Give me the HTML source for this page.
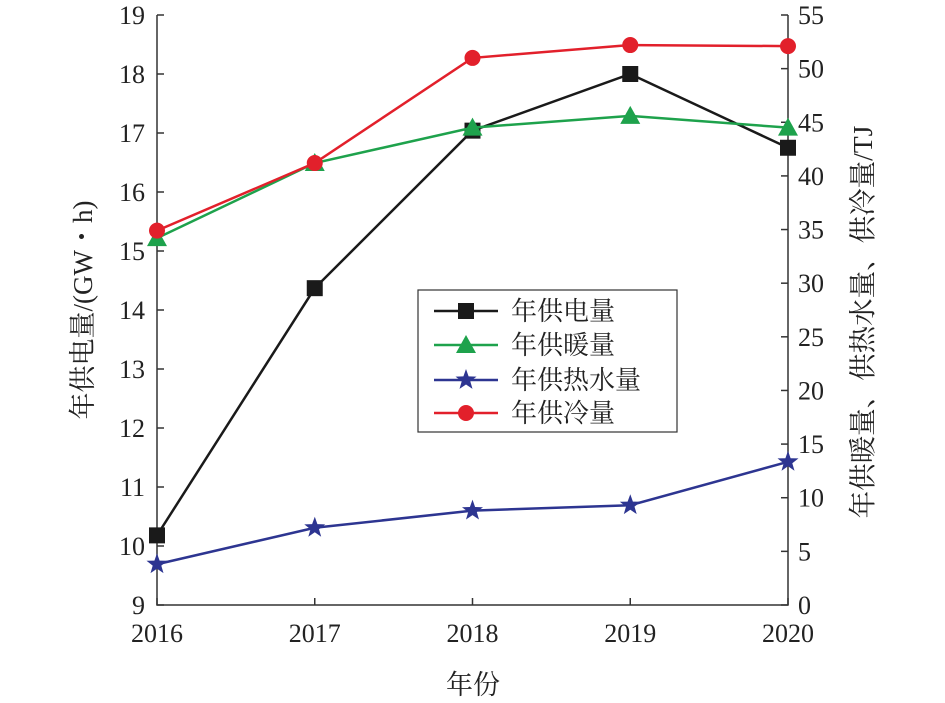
<!DOCTYPE html>
<html><head><meta charset="utf-8"><style>
html,body{margin:0;padding:0;background:#fff;}
svg{display:block;font-family:"Liberation Serif","Noto Serif CJK SC",serif;}
</style></head><body>
<svg id="chart" width="945" height="703" viewBox="0 0 945 703">
<g id="axes"></g><g id="series"></g><g id="legend"></g>
</svg>
<script>
const years = [2016, 2017, 2018, 2019, 2020];
const electricity = [10.18, 14.37, 17.04, 18.0, 16.75];
const heating = [34.2, 41.2, 44.5, 45.6, 44.5];
const hotWater = [3.8, 7.2, 8.8, 9.3, 13.35];
const cooling = [34.9, 41.2, 51.0, 52.2, 52.1];
const leftTicks = [9,10,11,12,13,14,15,16,17,18,19];
const rightTicks = [0,5,10,15,20,25,30,35,40,45,50,55];

const NS="http://www.w3.org/2000/svg";
const L=157,R=788,T=15,B=605;
const x=i=>L+(R-L)*(years[i]-2016)/4;
const yl=v=>B-(B-T)*(v-9)/10;
const yr=v=>B-(B-T)*v/55;
function mk(tag,attrs,parent){const e=document.createElementNS(NS,tag);for(const k in attrs)e.setAttribute(k,attrs[k]);parent.appendChild(e);return e;}
const ax=document.getElementById('axes'),se=document.getElementById('series'),lg=document.getElementById('legend');
const st={stroke:'#333','stroke-width':1.5,fill:'none'};
let a=mk('path',Object.assign({d:`M${L},${T}V${B}H${R}V${T}`},st),ax);

leftTicks.forEach(v=>{const y=yl(v);
 let t=mk('line',Object.assign({x1:L,x2:L+7,y1:y,y2:y},st),ax);
 
 let tx=mk('text',{x:L-12,y:y+9,'text-anchor':'end','font-size':26,fill:'#222'},ax);tx.textContent=v;
 });
rightTicks.forEach(v=>{const y=yr(v);
 let t=mk('line',Object.assign({x1:R-7,x2:R,y1:y,y2:y},st),ax);
 
 let tx=mk('text',{x:R+10,y:y+9,'font-size':26,fill:'#222'},ax);tx.textContent=v;
 });
years.forEach((yv,i)=>{const xx=x(i);
 let t=mk('line',Object.assign({x1:xx,x2:xx,y1:B,y2:B-7},st),ax);
 
 let tx=mk('text',{x:xx,y:642,'text-anchor':'middle','font-size':26,fill:'#222'},ax);tx.textContent=yv;
 });
let xt=mk('text',{x:473,y:694,'text-anchor':'middle','font-size':27,fill:'#222'},ax);xt.textContent='年份';

let ylt=mk('text',{x:0,y:0,'text-anchor':'middle','font-size':27,fill:'#222',transform:'translate(92,310) rotate(-90)'},ax);ylt.textContent='年供电量/(GW・h)';

let yrt=mk('text',{x:0,y:0,'text-anchor':'middle','font-size':27.5,fill:'#222',transform:'translate(872,322) rotate(-90)'},ax);yrt.textContent='年供暖量、供热水量、供冷量/TJ';


function marker(kind,cx,cy,color,parent){
 if(kind==='square')return mk('rect',{x:cx-8,y:cy-8,width:16,height:16,fill:color},parent);
 if(kind==='tri')return mk('path',{d:`M${cx},${cy-10}L${cx+10},${cy+8}L${cx-10},${cy+8}Z`,fill:color},parent);
 if(kind==='circle')return mk('circle',{cx:cx,cy:cy,r:8,fill:color},parent);
 let p='';for(let k=0;k<10;k++){const r=k%2?4.5:11,an=-Math.PI/2+k*Math.PI/5;p+=(k?'L':'M')+(cx+r*Math.cos(an)).toFixed(1)+','+(cy+r*Math.sin(an)).toFixed(1);}
 return mk('path',{d:p+'Z',fill:color},parent);
}
const series=[
 {name:'年供电量',vals:electricity,f:yl,c:'#1a1a1a',m:'square',id:'electricity'},
 {name:'年供暖量',vals:heating,f:yr,c:'#1ea24c',m:'tri',id:'heating'},
 {name:'年供热水量',vals:hotWater,f:yr,c:'#2d3591',m:'star',id:'hot-water'},
 {name:'年供冷量',vals:cooling,f:yr,c:'#e2202b',m:'circle',id:'cooling'}];
series.forEach(s=>{
 const g=mk('g',{},se);
 
 const l=mk('polyline',{points:s.vals.map((v,i)=>x(i)+','+s.f(v)).join(' '),stroke:s.c,'stroke-width':2.5,fill:'none'},g);
 
 s.vals.forEach((v,i)=>{const m=marker(s.m,x(i),s.f(v),s.c,g);
  });
});
const lb=mk('rect',{x:418,y:290,width:259,height:142,fill:'#fff',stroke:'#333','stroke-width':1.2},lg);

const ly=[311,345,380,413];
series.forEach((s,i)=>{
 const g=mk('g',{},lg);
 
 mk('line',{x1:434,x2:498,y1:ly[i],y2:ly[i],stroke:s.c,'stroke-width':2.5},g);
 marker(s.m,466,ly[i],s.c,g);
 const t=mk('text',{x:511,y:ly[i]+9,'font-size':26,fill:'#222'},g);t.textContent=s.name;
});
</script>
</body></html>
